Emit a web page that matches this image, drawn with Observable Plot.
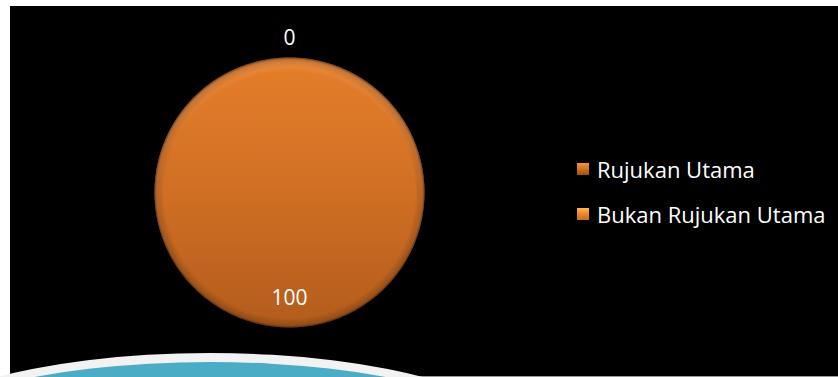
<!DOCTYPE html>
<html><head><meta charset="utf-8">
<script src="https://cdn.jsdelivr.net/npm/d3@7"></script>
<script src="https://cdn.jsdelivr.net/npm/@observablehq/plot@0.6"></script>
<style>
html,body{margin:0;padding:0;background:#fff;width:838px;height:377px;overflow:hidden;position:relative;}
#panel{position:absolute;left:10px;top:6px;width:828px;height:370px;background:#000;}
#rule{position:absolute;left:10px;top:376px;width:828px;height:1px;background:#9a9a9a;}
#waveClip{position:absolute;left:0;top:0;width:838px;height:377px;overflow:hidden;}
#wave{position:absolute;left:-110px;top:353px;width:622px;height:172px;border:9px solid #f2f2f2;border-radius:50%;background:#4bacc6;}
#chart{position:absolute;left:0;top:0;}
.leg{position:absolute;left:577px;display:flex;align-items:center;font-family:"Open Sans",sans-serif;font-size:22px;color:#fff;white-space:nowrap;}
.leg .sw{width:12px;height:12px;margin-right:8px;}
</style>
</head><body>
<div id="panel"></div>
<div id="rule"></div>
<div id="waveClip"><div id="wave"></div></div>
<div id="chart"></div>
<div id="legend"></div>
<script>
const categories = ["Rujukan Utama", "Bukan Rujukan Utama"];
const values = [0, 100];
const labelRadius = [1.14, 0.785];
const swatches = [
  "linear-gradient(180deg,#f0973f 0%,#d9741f 45%,#9c5016 100%)",
  "linear-gradient(180deg,#ffb655 0%,#f08a2c 45%,#c96c1e 100%)"
];
const legendRowsY = [169, 214];

const arcs = d3.pie().sort(null)(values);
const slicePts = [];
arcs.forEach((a, i) => {
  if (a.endAngle - a.startAngle <= 0) return;
  slicePts.push({name: categories[i], x: 0, y: 0});
  const n = Math.max(2, Math.ceil((a.endAngle - a.startAngle) / 0.01));
  for (let k = 0; k <= n; k++) {
    const t = a.startAngle + (a.endAngle - a.startAngle) * k / n;
    slicePts.push({name: categories[i], x: Math.sin(t), y: Math.cos(t)});
  }
});
const labels = arcs.map((a, i) => {
  const m = (a.startAngle + a.endAngle) / 2;
  return {text: String(values[i]), x: Math.sin(m) * labelRadius[i], y: Math.cos(m) * labelRadius[i]};
});

const svg = Plot.plot({
  width: 838, height: 377,
  margin: 0,
  style: {background: "transparent", overflow: "visible"},
  x: {domain: [-1, 1], range: [154, 424], axis: null},
  y: {domain: [-1, 1], range: [327, 57], axis: null},
  marks: [
    Plot.line(slicePts, {x: "x", y: "y", z: "name", fill: "url(#pieGrad)", stroke: "none", curve: "linear"}),
    Plot.line(slicePts, {x: "x", y: "y", z: "name", fill: "url(#rimTop)", stroke: "none", curve: "linear"}),
    Plot.line(slicePts, {x: "x", y: "y", z: "name", fill: "url(#bevel)", stroke: "none", curve: "linear"}),
    Plot.text(labels, {x: "x", y: "y", text: "text", fill: "#fff", fontSize: 21, fontFamily: "Open Sans, sans-serif"})
  ]
});
const defs = d3.select(svg).insert("defs", ":first-child");
const lg = defs.append("linearGradient").attr("id", "pieGrad").attr("x1", 0).attr("y1", 0).attr("x2", 0).attr("y2", 1);
lg.append("stop").attr("offset", "0").attr("stop-color", "#e57e2a");
lg.append("stop").attr("offset", "0.5").attr("stop-color", "#d06f24");
lg.append("stop").attr("offset", "1").attr("stop-color", "#b25c1c");
const rt = defs.append("radialGradient").attr("id", "rimTop").attr("cx", 0.5).attr("cy", 0.53).attr("r", 0.53);
rt.append("stop").attr("offset", "0.9").attr("stop-color", "#ffb070").attr("stop-opacity", 0);
rt.append("stop").attr("offset", "0.97").attr("stop-color", "#ffb070").attr("stop-opacity", 0.35);
rt.append("stop").attr("offset", "1").attr("stop-color", "#ffb070").attr("stop-opacity", 0.1);
const rg = defs.append("radialGradient").attr("id", "bevel").attr("cx", 0.5).attr("cy", 0.5).attr("r", 0.5);
rg.append("stop").attr("offset", "0.93").attr("stop-color", "#000").attr("stop-opacity", 0);
rg.append("stop").attr("offset", "0.985").attr("stop-color", "#000").attr("stop-opacity", 0.18);
rg.append("stop").attr("offset", "1").attr("stop-color", "#000").attr("stop-opacity", 0.5);
document.getElementById("chart").appendChild(svg);

const legend = document.getElementById("legend");
categories.forEach((c, i) => {
  const row = document.createElement("div");
  row.className = "leg";
  row.style.top = (legendRowsY[i] - 15) + "px";
  row.style.height = "30px";
  const sw = document.createElement("div");
  sw.className = "sw";
  sw.style.background = swatches[i];
  const t = document.createElement("span");
  t.textContent = c;
  row.appendChild(sw); row.appendChild(t);
  legend.appendChild(row);
});
</script>
</body></html>
